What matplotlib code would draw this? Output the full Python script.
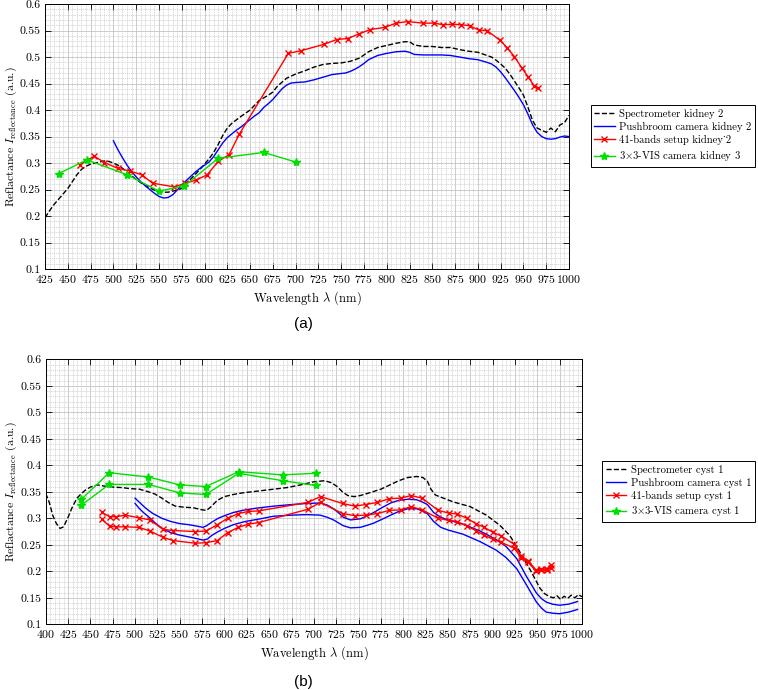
import matplotlib
matplotlib.use('Agg')
import matplotlib.pyplot as plt
from matplotlib.ticker import MultipleLocator

plt.rcParams['font.family'] = ['cmr10', 'DejaVu Serif']
plt.rcParams['mathtext.fontset'] = 'cm'
plt.rcParams['axes.formatter.use_mathtext'] = True

# ---- (a) kidney ----
spec_k_wl = [425, 430, 435, 440, 445, 450, 455, 460, 465, 470, 475, 480, 485, 490, 495, 500,
             505, 510, 515, 520, 525, 530, 535, 540, 545, 550, 555, 560, 565, 570, 575, 580,
             585, 590, 595, 600, 605, 610, 615, 620, 625, 630, 640, 650, 660, 670, 675, 680,
             690, 700, 710, 720, 730, 740, 750, 760, 770, 780, 790, 800, 810, 820, 825, 830,
             840, 850, 860, 870, 880, 890, 900, 910, 915, 920, 925, 930, 935, 940, 945, 950,
             955, 960, 965, 970, 975, 980, 985, 990, 995, 1000]
spec_k = [0.197, 0.21, 0.222, 0.232, 0.242, 0.252, 0.265, 0.278, 0.288, 0.294, 0.298, 0.300,
          0.302, 0.304, 0.303, 0.300, 0.296, 0.290, 0.283, 0.276, 0.269, 0.263, 0.258, 0.253,
          0.249, 0.246, 0.245, 0.245, 0.247, 0.249, 0.252, 0.262, 0.270, 0.279, 0.288, 0.298,
          0.308, 0.320, 0.335, 0.352, 0.366, 0.375, 0.388, 0.400, 0.418, 0.428, 0.434, 0.445,
          0.460, 0.468, 0.474, 0.481, 0.486, 0.488, 0.489, 0.492, 0.498, 0.510, 0.518, 0.522,
          0.526, 0.529, 0.529, 0.523, 0.520, 0.520, 0.518, 0.518, 0.514, 0.511, 0.509, 0.503,
          0.500, 0.494, 0.487, 0.479, 0.468, 0.455, 0.442, 0.428, 0.405, 0.380, 0.366, 0.362,
          0.358, 0.366, 0.359, 0.372, 0.376, 0.390]

pb_k_wl = [500, 505, 510, 515, 520, 525, 530, 535, 540, 545, 550, 555, 560, 565, 570, 575,
           580, 585, 590, 595, 600, 605, 610, 615, 620, 625, 630, 635, 640, 645, 650, 655,
           660, 665, 670, 675, 680, 685, 690, 695, 700, 710, 720, 730, 740, 750, 755, 760,
           765, 770, 775, 780, 790, 800, 810, 820, 825, 830, 840, 850, 860, 870, 880, 890,
           900, 910, 915, 920, 925, 930, 935, 940, 945, 950, 955, 960, 965, 970, 975, 980,
           985, 990, 995, 1000]
pb_k = [0.342, 0.325, 0.310, 0.296, 0.284, 0.274, 0.265, 0.257, 0.250, 0.243, 0.237, 0.234,
        0.235, 0.240, 0.249, 0.258, 0.267, 0.275, 0.283, 0.290, 0.296, 0.302, 0.312, 0.325,
        0.338, 0.348, 0.355, 0.362, 0.368, 0.375, 0.382, 0.389, 0.395, 0.405, 0.412, 0.420,
        0.430, 0.440, 0.447, 0.451, 0.452, 0.453, 0.457, 0.462, 0.467, 0.469, 0.470, 0.473,
        0.477, 0.482, 0.488, 0.495, 0.503, 0.507, 0.510, 0.511, 0.509, 0.505, 0.504, 0.504,
        0.504, 0.503, 0.500, 0.497, 0.495, 0.490, 0.487, 0.481, 0.472, 0.461, 0.449, 0.437,
        0.424, 0.410, 0.392, 0.372, 0.358, 0.350, 0.346, 0.345, 0.346, 0.349, 0.351, 0.350]

bands_k_wl = [463, 479, 490, 505, 518, 531, 543, 567, 579, 591, 603, 615, 627, 638, 692, 706,
              731, 745, 757, 770, 782, 798, 810, 823, 840, 852, 862, 872, 882, 891, 901, 910,
              924, 932, 940, 948, 955, 962, 966]
bands_k = [0.297, 0.313, 0.301, 0.290, 0.285, 0.278, 0.262, 0.255, 0.262, 0.268, 0.278, 0.303,
           0.316, 0.354, 0.507, 0.512, 0.524, 0.533, 0.535, 0.544, 0.552, 0.556, 0.564, 0.567,
           0.564, 0.564, 0.561, 0.562, 0.561, 0.559, 0.551, 0.550, 0.532, 0.518, 0.501, 0.480,
           0.463, 0.445, 0.442]

vis_k_wl = [440, 471, 515, 550, 578, 615, 665, 700]
vis_k = [0.280, 0.306, 0.278, 0.247, 0.257, 0.309, 0.320, 0.302]

# ---- (b) cyst ----
spec_c_wl = [400, 404, 408, 412, 416, 420, 425, 430, 435, 440, 445, 450, 458, 465, 475, 485,
             495, 505, 515, 522, 530, 537, 545, 555, 565, 575, 580, 585, 592, 600, 610, 620,
             635, 655, 670, 685, 700, 712, 720, 726, 732, 738, 745, 752, 760, 775, 785, 795,
             805, 815, 822, 827, 831, 836, 842, 856, 875, 893, 908, 919, 925, 931, 942, 953,
             958, 964, 968, 972, 976, 980, 984, 988, 992, 996, 1000]
spec_c = [0.347, 0.330, 0.305, 0.290, 0.281, 0.284, 0.302, 0.322, 0.338, 0.347, 0.354, 0.359,
          0.363, 0.361, 0.359, 0.358, 0.356, 0.355, 0.350, 0.346, 0.338, 0.330, 0.323, 0.321,
          0.320, 0.316, 0.315, 0.322, 0.334, 0.341, 0.345, 0.348, 0.351, 0.355, 0.358, 0.363,
          0.369, 0.371, 0.367, 0.360, 0.350, 0.343, 0.341, 0.343, 0.347, 0.355, 0.363, 0.371,
          0.377, 0.379, 0.377, 0.370, 0.355, 0.344, 0.340, 0.331, 0.322, 0.306, 0.287, 0.268,
          0.252, 0.235, 0.203, 0.168, 0.158, 0.152, 0.150, 0.154, 0.147, 0.153, 0.149, 0.155,
          0.150, 0.156, 0.152]

pb_c_wl1 = [500, 505, 510, 515, 520, 530, 540, 550, 560, 570, 576, 580, 586, 593, 600, 610,
            620, 635, 655, 675, 692, 707, 715, 722, 728, 733, 741, 752, 760, 767, 776, 786,
            795, 805, 815, 820, 827, 834, 842, 850, 867, 886, 904, 915, 927, 938, 949, 955,
            960, 967, 975, 985, 995]
pb_c1 = [0.338, 0.330, 0.322, 0.315, 0.309, 0.300, 0.294, 0.290, 0.288, 0.285, 0.283, 0.286,
         0.293, 0.300, 0.305, 0.311, 0.315, 0.319, 0.323, 0.326, 0.328, 0.329, 0.325, 0.318,
         0.310, 0.302, 0.297, 0.299, 0.305, 0.311, 0.320, 0.329, 0.334, 0.336, 0.335, 0.332,
         0.326, 0.311, 0.302, 0.297, 0.289, 0.276, 0.260, 0.247, 0.224, 0.190, 0.159, 0.148,
         0.142, 0.138, 0.136, 0.138, 0.143]

pb_c_wl2 = [500, 505, 510, 515, 522, 530, 540, 548, 563, 576, 581, 586, 593, 600, 610, 623,
            640, 655, 675, 692, 707, 715, 722, 728, 733, 741, 752, 760, 767, 776, 786, 795,
            805, 815, 820, 827, 834, 842, 850, 867, 886, 904, 915, 927, 938, 949, 955, 960,
            967, 975, 985, 995]
pb_c2 = [0.328, 0.318, 0.310, 0.303, 0.292, 0.281, 0.273, 0.269, 0.264, 0.259, 0.261, 0.268,
         0.275, 0.281, 0.288, 0.294, 0.299, 0.304, 0.306, 0.307, 0.306, 0.302, 0.297, 0.291,
         0.286, 0.282, 0.283, 0.287, 0.291, 0.298, 0.306, 0.313, 0.318, 0.318, 0.315, 0.309,
         0.294, 0.283, 0.278, 0.270, 0.256, 0.240, 0.226, 0.205, 0.174, 0.142, 0.130, 0.123,
         0.121, 0.120, 0.123, 0.128]

bands_c_wl = [463, 471.5, 479, 489, 504.6, 516.6, 531.5, 542.7, 567.3, 579.3, 592, 603.5,
              615.5, 626.6, 638.2, 693, 707.5, 732.1, 745.9, 757.8, 771.2, 784.3, 797, 808.9,
              821.2, 839.1, 851, 860.4, 871.6, 881.3, 890.6, 899.9, 909.2, 924.1, 932.3, 940.1,
              948, 954, 960.3, 965.1]
bands_c1 = [0.311, 0.303, 0.303, 0.306, 0.301, 0.297, 0.279, 0.277, 0.275, 0.276, 0.288, 0.300,
            0.309, 0.313, 0.314, 0.330, 0.341, 0.328, 0.323, 0.326, 0.330, 0.337, 0.338, 0.343,
            0.338, 0.315, 0.310, 0.308, 0.300, 0.290, 0.283, 0.274, 0.267, 0.251, 0.228, 0.220,
            0.203, 0.204, 0.204, 0.212]
bands_c2 = [0.298, 0.285, 0.284, 0.284, 0.283, 0.276, 0.264, 0.258, 0.253, 0.254, 0.258, 0.273,
            0.283, 0.289, 0.292, 0.317, 0.330, 0.309, 0.305, 0.306, 0.309, 0.315, 0.316, 0.322,
            0.316, 0.300, 0.296, 0.294, 0.285, 0.277, 0.268, 0.261, 0.255, 0.244, 0.225, 0.217,
            0.201, 0.202, 0.202, 0.207]

vis_c_wl = [440, 471, 515, 550, 579, 616, 665, 702]
vis_c1 = [0.336, 0.386, 0.378, 0.363, 0.360, 0.388, 0.382, 0.385]
vis_c2 = [0.325, 0.364, 0.364, 0.348, 0.345, 0.385, 0.371, 0.362]


def style_axes(ax, x0, x1):
    ax.set_xlim(x0, x1)
    ax.set_ylim(0.1, 0.6)
    ax.set_xticks(range(x0, x1 + 1, 25))
    ax.set_yticks([0.1, 0.15, 0.2, 0.25, 0.3, 0.35, 0.4, 0.45, 0.5, 0.55, 0.6])
    ax.set_yticklabels(['0.1', '0.15', '0.2', '0.25', '0.3', '0.35', '0.4', '0.45',
                        '0.5', '0.55', '0.6'])
    ax.xaxis.set_minor_locator(MultipleLocator(5))
    ax.yaxis.set_minor_locator(MultipleLocator(0.01))
    ax.grid(which='major', color='#c4c4c4', linewidth=0.6)
    ax.grid(which='minor', color='#cfcfcf', linewidth=0.5, linestyle=(0, (2, 1)))
    ax.set_axisbelow(True)
    ax.tick_params(which='major', direction='in', top=True, right=True, length=4,
                   width=0.6, labelsize=8.5, pad=3)
    ax.tick_params(which='minor', length=0)
    for s in ax.spines.values():
        s.set_linewidth(0.7)
    ax.set_xlabel(r'Wavelength $\lambda$ (nm)', fontsize=9, labelpad=3)
    ax.set_ylabel(r'Reflactance $I_{\mathrm{reflectance}}$ (a.u.)', fontsize=8.5)
    ax.yaxis.set_label_coords(-0.050, 0.5)


def add_legend(ax, anchor):
    leg = ax.legend(loc='center left', bbox_to_anchor=anchor,
                    bbox_transform=fig.transFigure, fontsize=7.7, frameon=True,
                    fancybox=False, edgecolor='black', framealpha=1, handlelength=1.9,
                    borderpad=0.35, labelspacing=0.3, handletextpad=0.4)
    leg.get_frame().set_linewidth(0.7)


fig = plt.figure(figsize=(7.58, 6.9), dpi=100)

# (a)
ax1 = fig.add_axes([0.0594, 0.6101, 0.6913, 0.384])
ax1.plot(spec_k_wl, spec_k, '--', color='black', lw=1.0, label='Spectrometer kidney 2')
ax1.plot(pb_k_wl, pb_k, '-', color='#0000ff', lw=1.0, label='Pushbroom camera kidney 2')
ax1.plot(bands_k_wl, bands_k, '-x', color='#ff0000', lw=1.0, ms=5, mew=1.0,
         label='41-bands setup kidney_2')
ax1.plot(vis_k_wl, vis_k, '-*', color='#00e000', lw=1.0, ms=6, mew=1.0,
         label=r'3$\times$3-VIS camera kidney 3')
style_axes(ax1, 425, 1000)
add_legend(ax1, (0.772, 0.803))
fig.text(0.40, 0.530, '(a)', ha='center', va='center', fontsize=11,
         family='Liberation Sans')

# (b)
ax2 = fig.add_axes([0.0603, 0.0952, 0.7075, 0.384])
ax2.plot(spec_c_wl, spec_c, '--', color='black', lw=1.0, label='Spectrometer cyst 1')
ax2.plot(pb_c_wl1, pb_c1, '-', color='#0000ff', lw=1.0, label='Pushbroom camera cyst 1')
ax2.plot(pb_c_wl2, pb_c2, '-', color='#0000ff', lw=1.0)
ax2.plot(bands_c_wl, bands_c1, '-x', color='#ff0000', lw=1.0, ms=5, mew=1.0,
         label='41-bands setup cyst 1')
ax2.plot(bands_c_wl, bands_c2, '-x', color='#ff0000', lw=1.0, ms=5, mew=1.0)
ax2.plot(vis_c_wl, vis_c1, '-*', color='#00e000', lw=1.0, ms=6, mew=1.0,
         label=r'3$\times$3-VIS camera cyst 1')
ax2.plot(vis_c_wl, vis_c2, '-*', color='#00e000', lw=1.0, ms=6, mew=1.0)
style_axes(ax2, 400, 1000)
add_legend(ax2, (0.7876, 0.2877))
fig.text(0.40, 0.011, '(b)', ha='center', va='center', fontsize=11,
         family='Liberation Sans')

fig.savefig('out.png', dpi=100)
